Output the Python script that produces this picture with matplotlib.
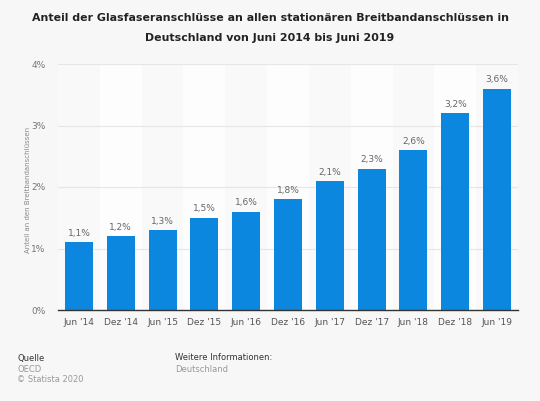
import matplotlib.pyplot as plt

# Daten
labels = ["Jun '14", "Dez '14", "Jun '15", "Dez '15", "Jun '16", "Dez '16",
          "Jun '17", "Dez '17", "Jun '18", "Dez '18", "Jun '19"]
werte = [1.1, 1.2, 1.3, 1.5, 1.6, 1.8, 2.1, 2.3, 2.6, 3.2, 3.6]
yticks = [0, 1, 2, 3, 4]

bg = '#f7f7f7'
blue = '#0c87e0'

fig = plt.figure(figsize=(5.4, 4.01), dpi=100, facecolor=bg)
ax = fig.add_axes([58 / 540, 1 - 310 / 401, 460 / 540, 246 / 401])
ax.set_facecolor(bg)

x = list(range(len(labels)))

# abwechselnde Spalten
for i in x:
    ax.axvspan(i - 0.5, i + 0.5, color='#fdfdfd' if i % 2 else '#f9f9f9', lw=0, zorder=0)

for y in yticks[1:]:
    ax.axhline(y, color='#e6e6e6', lw=0.8, zorder=1)

bars = ax.bar(x, werte, width=0.67, color=blue, zorder=2)
for xi, v in zip(x, werte):
    ax.text(xi, v + 0.07, f"{v:.1f}%".replace('.', ','), ha='center', va='bottom',
            fontsize=6.5, color='#666666')

ax.set_xlim(-0.5, len(labels) - 0.5)
ax.set_ylim(0, 4)
ax.set_xticks(x)
ax.set_xticklabels(labels, fontsize=6.5, color='#555555')
ax.set_yticks(yticks)
ax.set_yticklabels([f"{t}%" for t in yticks], fontsize=6.5, color='#777777')
ax.tick_params(length=0, pad=9)
ax.tick_params(axis='x', pad=6)
for s in ['top', 'right', 'left']:
    ax.spines[s].set_visible(False)
ax.spines['bottom'].set_color('#333333')
ax.spines['bottom'].set_linewidth(1)
ax.spines['bottom'].set_zorder(3)

fig.text(28 / 540, 1 - 190 / 401, "Anteil an den Breitbandanschlüssen", rotation=90,
         ha='center', va='center', fontsize=5, color='#888888')

fig.text(0.5, 1 - 18 / 401, "Anteil der Glasfaseranschlüsse an allen stationären Breitbandanschlüssen in",
         ha='center', va='center', fontsize=7.9, fontweight='bold', color='#222222')
fig.text(0.5, 1 - 38 / 401, "Deutschland von Juni 2014 bis Juni 2019",
         ha='center', va='center', fontsize=7.9, fontweight='bold', color='#222222')

fig.text(17 / 540, 1 - 358 / 401, "Quelle", fontsize=6, color='#333333', va='center')
fig.text(17 / 540, 1 - 369 / 401, "OECD", fontsize=6, color='#999999', va='center')
fig.text(17 / 540, 1 - 379 / 401, "© Statista 2020", fontsize=6, color='#999999', va='center')
fig.text(175 / 540, 1 - 358 / 401, "Weitere Informationen:", fontsize=6, color='#333333', va='center')
fig.text(175 / 540, 1 - 369 / 401, "Deutschland", fontsize=6, color='#999999', va='center')

fig.savefig('out.png', dpi=100, facecolor=bg)
